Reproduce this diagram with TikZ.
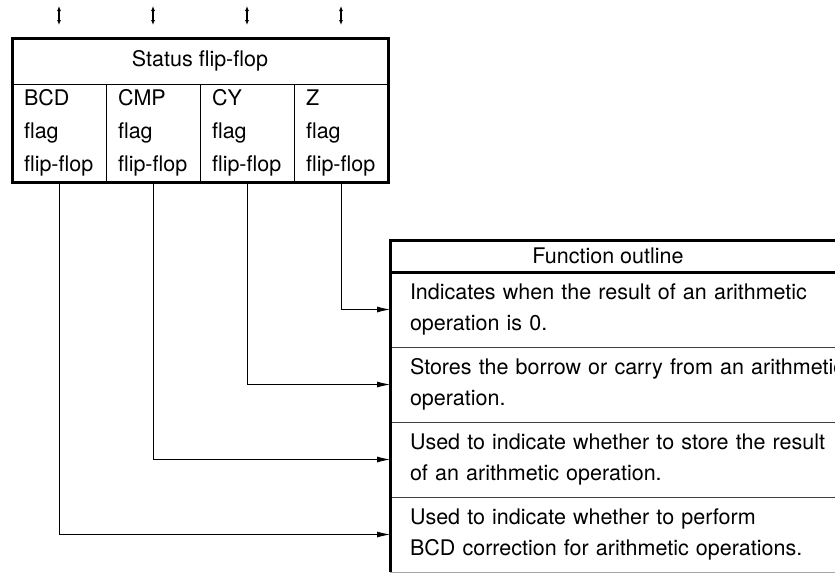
\documentclass[tikz,border=0pt]{standalone}
\usepackage{fontspec}
\setmainfont{TeX Gyre Heros}
\usetikzlibrary{arrows.meta,positioning}

\begin{document}
\begin{tikzpicture}[x=1pt,y=-1pt,
  every node/.style={font=\fontsize{21.5}{33}\selectfont,outer sep=0pt},
  cell/.style={draw,line width=1pt,anchor=north west,minimum height=98pt,text width=70pt,inner xsep=12pt,align=left},
  fnrow/.style={draw=black!75,line width=1pt,anchor=north west,minimum width=520pt,minimum height=75pt,text width=480pt,inner xsep=20pt,align=left,font=\fontsize{21.5}{31}\selectfont},
  link/.style={line width=0.8pt,-{Latex[length=13pt,width=6pt]}},
  io/.style={line width=1.2pt,{Latex[length=5pt,width=4pt]}-{Latex[length=5pt,width=4pt]}},
  frame/.style={line width=3pt}]
\clip (0,0) rectangle (835,573);
\node[draw,line width=1pt,anchor=north west,minimum width=376pt,minimum height=46pt](shdr)at(12,38){Status flip-flop};
\node[cell](bcd)at(shdr.south west){BCD\\flag\\flip-flop};
\node[cell](cmp)at(bcd.north east){CMP\\flag\\flip-flop};
\node[cell](cy)at(cmp.north east){CY\\flag\\flip-flop};
\node[cell](z)at(cy.north east){Z\\flag\\flip-flop};
\draw[frame](shdr.north west) rectangle (z.south east);
\foreach \c in {bcd,cmp,cy,z}{
  \coordinate (\c-hi) at (\c.north |- 0,6);
  \coordinate (\c-lo) at (\c.north |- 0,25);
  \draw[io](\c-hi)--(\c-lo);
}
\node[anchor=north west,minimum width=436pt,minimum height=32pt](fnhdr)at(390,240){Function outline};
\node[fnrow](rowz)at(fnhdr.south west){Indicates when the result of an arithmetic\\operation is 0.};
\node[fnrow](rowcy)at(rowz.south west){Stores the borrow or carry from an arithmetic\\operation.};
\node[fnrow](rowcmp)at(rowcy.south west){Used to indicate whether to store the result\\of an arithmetic operation.};
\node[fnrow](rowbcd)at(rowcmp.south west){Used to indicate whether to perform\\BCD correction for arithmetic operations.};
\draw[line width=1pt,black!35](rowbcd.south west)--(rowbcd.south east);
\draw[frame](rowbcd.south west)--(fnhdr.north west)--++(520,0);
\draw[frame](fnhdr.south west)--++(520,0);
\draw[link](z.south)|-(rowz.west);
\draw[link](cy.south)|-(rowcy.west);
\draw[link](cmp.south)|-(rowcmp.west);
\draw[link](bcd.south)|-(rowbcd.west);
\end{tikzpicture}
\end{document}
